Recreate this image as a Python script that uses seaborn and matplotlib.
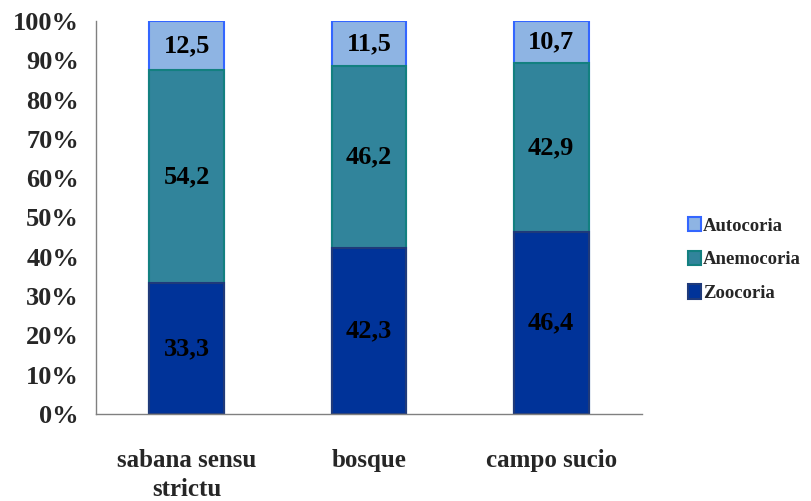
import numpy as np
import pandas as pd
import matplotlib
matplotlib.use("Agg")
import matplotlib.pyplot as plt
import seaborn as sns

# Data (percent per habitat)
habitats = ["sabana sensu\nstrictu", "bosque", "campo sucio"]
zoocoria = [33.3, 42.3, 46.4]
anemocoria = [54.2, 46.2, 42.9]
autocoria = [12.5, 11.5, 10.7]

series_names = ["Zoocoria", "Anemocoria", "Autocoria"]
face_colors = ["#003399", "#31849B", "#8EB4E3"]
edge_colors = ["#1F3A7A", "#138080", "#3366FF"]

sns.set_style("white")
plt.rcParams["font.family"] = ["Liberation Serif", "DejaVu Serif"]
plt.rcParams["font.weight"] = "bold"

df = pd.DataFrame({"habitat": habitats, "Zoocoria": zoocoria,
                   "Anemocoria": anemocoria, "Autocoria": autocoria})
# cumulative tops for stacking
df["c1"] = df["Zoocoria"]
df["c2"] = df["c1"] + df["Anemocoria"]
df["c3"] = df["c2"] + df["Autocoria"]

fig = plt.figure(figsize=(8.11, 5.01), dpi=100)
ax = fig.add_axes([0.118, 0.174, 0.674, 0.784])

# draw tallest first so shorter segments sit on top
for col, name, fc, ec in zip(["c3", "c2", "c1"], series_names[::-1],
                             face_colors[::-1], edge_colors[::-1]):
    sns.barplot(data=df, x="habitat", y=col, color=fc, edgecolor=ec,
                linewidth=1.5, width=0.41, saturation=1, ax=ax, label=name)

# segment labels
for i in range(len(df)):
    bottoms = [0, df["c1"][i], df["c2"][i]]
    vals = [df["Zoocoria"][i], df["Anemocoria"][i], df["Autocoria"][i]]
    for b, v in zip(bottoms, vals):
        ax.text(i, b + v / 2, f"{v:.1f}".replace(".", ","), ha="center",
                va="center", fontsize=19, fontweight="bold", color="black")

ax.set_ylim(0, 100)
ax.set_xlim(-0.5, 2.5)
ax.set_yticks(np.arange(0, 101, 10))
ax.set_yticklabels([f"{t}%" for t in range(0, 101, 10)], fontsize=19,
                   fontweight="bold")
ax.set_xticks(range(3))
ax.set_xticklabels(habitats, fontsize=18, fontweight="bold", linespacing=1.35)
ax.set_xlabel("")
ax.set_ylabel("")

# category separators as minor ticks on x
ax.set_xticks([-0.5, 0.5, 1.5, 2.5], minor=True)
ax.tick_params(axis="x", which="major", length=0, pad=25)
ax.tick_params(axis="x", which="minor", length=7, color="#808080", width=1,
               direction="out")
ax.tick_params(axis="y", length=7, color="#808080", width=1, direction="out",
               pad=5)

for s in ["top", "right"]:
    ax.spines[s].set_visible(False)
for s in ["left", "bottom"]:
    ax.spines[s].set_color("#808080")
    ax.spines[s].set_linewidth(1)

handles, labels = ax.get_legend_handles_labels()
order = ["Autocoria", "Anemocoria", "Zoocoria"]
hmap = dict(zip(labels, handles))
ax.legend([hmap[n] for n in order], order, loc="center left",
          bbox_to_anchor=(1.06, 0.393), frameon=False, handlelength=0.7,
          handleheight=0.8, handletextpad=0.1, labelspacing=0.85,
          borderpad=0.2, prop={"size": 13.5, "weight": "bold"})

fig.savefig("out.png", dpi=100)
